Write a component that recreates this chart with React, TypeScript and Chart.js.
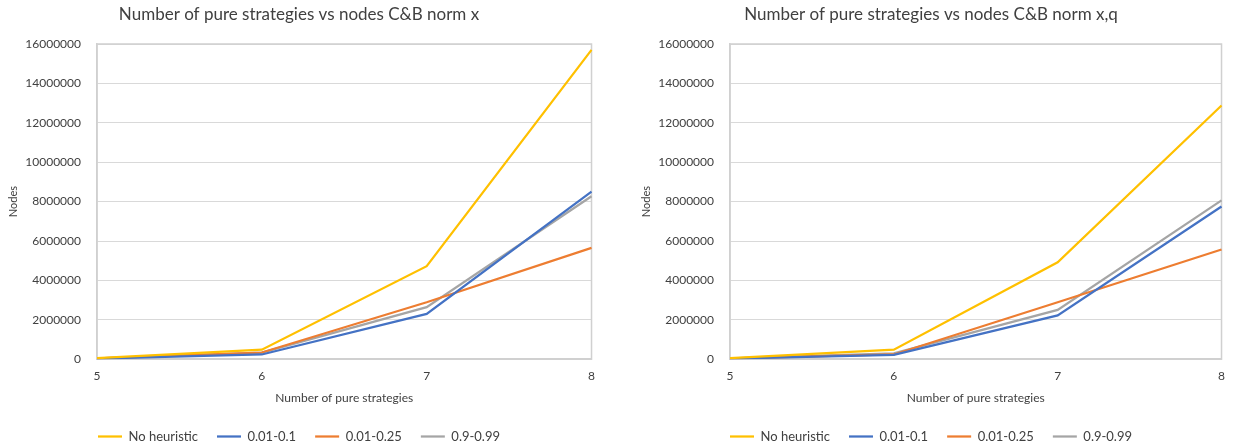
import React, { useEffect, useRef } from "react";
import { Chart, registerables } from "chart.js";

Chart.register(...registerables);

const xLabels = ["5", "6", "7", "8"];
const seriesNames = ["No heuristic", "0.01-0.1", "0.01-0.25", "0.9-0.99"];
const seriesColors = ["#FFC000", "#4472C4", "#ED7D31", "#A5A5A5"];

const leftNoHeuristic = [50000, 480000, 4720000, 15700000];
const leftLow = [30000, 240000, 2300000, 8510000];
const leftMid = [40000, 340000, 2890000, 5650000];
const leftHigh = [40000, 330000, 2640000, 8270000];

const rightNoHeuristic = [50000, 480000, 4920000, 12880000];
const rightLow = [30000, 220000, 2220000, 7750000];
const rightMid = [40000, 240000, 2890000, 5570000];
const rightHigh = [40000, 300000, 2500000, 8060000];

const yMin = 0;
const yMax = 16000000;
const yStep = 2000000;

const leftTitle = "Number of pure strategies vs nodes C&B norm x";
const rightTitle = "Number of pure strategies vs nodes C&B norm x,q";
const xTitle = "Number of pure strategies";
const yTitle = "Nodes";

const FONT = "Lato, 'Liberation Sans', sans-serif";

const borderPlugin = {
  id: "plotBorder",
  beforeDatasetsDraw(chart: any) {
    const { ctx, chartArea } = chart;
    ctx.save();
    ctx.strokeStyle = "#d0d0d0";
    ctx.lineWidth = 1.5;
    ctx.strokeRect(chartArea.left, chartArea.top, chartArea.right - chartArea.left, chartArea.bottom - chartArea.top);
    ctx.restore();
  },
};

function makeConfig(title: string, series: number[][], yAxisWidth: number, padLeft: number, padRight: number): any {
  return {
    type: "line",
    data: {
      labels: xLabels,
      datasets: series.map((s, i) => ({
        label: seriesNames[i],
        data: s,
        borderColor: seriesColors[i],
        backgroundColor: seriesColors[i],
        borderWidth: 2.25,
        pointRadius: 0,
        tension: 0,
      })),
    },
    options: {
      responsive: false,
      animation: false,
      layout: { padding: { left: padLeft, right: padRight, top: 0, bottom: -6 } },
      plugins: {
        title: {
          display: true,
          text: title,
          color: "#404040",
          font: { family: FONT, size: 17, weight: "normal" },
          padding: { top: 4, bottom: 19.6 },
        },
        legend: {
          position: "bottom",
          labels: {
            usePointStyle: true,
            pointStyle: "line",
            pointStyleWidth: 24,
            boxHeight: 12,
            padding: 19,
            color: "#404040",
            font: { family: FONT, size: 13 },
          },
        },
        tooltip: { enabled: false },
      },
      scales: {
        x: {
          type: "category",
          offset: false,
          grid: { display: false, drawTicks: false },
          border: { display: true, color: "#d0d0d0", width: 1.5 },
          ticks: { color: "#404040", font: { family: FONT, size: 12 }, padding: 10, maxRotation: 0 },
          title: {
            display: true,
            text: xTitle,
            color: "#404040",
            font: { family: FONT, size: 12 },
            padding: { top: -3, bottom: 6 },
          },
        },
        y: {
          min: yMin,
          max: yMax,
          grid: { color: "#d9d9d9", lineWidth: 1, drawTicks: false },
          border: { display: true, color: "#d0d0d0", width: 1.5 },
          ticks: {
            stepSize: yStep,
            color: "#404040",
            font: { family: FONT, size: 12 },
            padding: 16,
            callback: (v: any) => String(v),
          },
          title: {
            display: true,
            text: yTitle,
            color: "#404040",
            font: { family: FONT, size: 11 },
            padding: { top: 1, bottom: 0 },
          },
          afterFit: (scale: any) => {
            scale.width = yAxisWidth;
          },
        },
      },
    },
    plugins: [borderPlugin],
  };
}

function ChartCanvas(props: { width: number; height: number; config: any; left: number }) {
  const ref = useRef<HTMLCanvasElement | null>(null);
  useEffect(() => {
    if (!ref.current) return;
    const chart = new Chart(ref.current, props.config);
    return () => chart.destroy();
  }, []);
  return (
    <canvas
      ref={ref}
      width={props.width}
      height={props.height}
      style={{ position: "absolute", left: props.left, top: 0, width: props.width, height: props.height }}
    />
  );
}

export default function App() {
  const leftConfig = makeConfig(leftTitle, [leftNoHeuristic, leftLow, leftMid, leftHigh], 91, 6, 13);
  const rightConfig = makeConfig(rightTitle, [rightNoHeuristic, rightLow, rightMid, rightHigh], 91, 6, 12);
  return (
    <div style={{ position: "absolute", left: 0, top: 0, width: 1235, height: 447, background: "#ffffff" }}>
      <ChartCanvas width={605} height={447} left={0} config={leftConfig} />
      <ChartCanvas width={602} height={447} left={633} config={rightConfig} />
    </div>
  );
}
